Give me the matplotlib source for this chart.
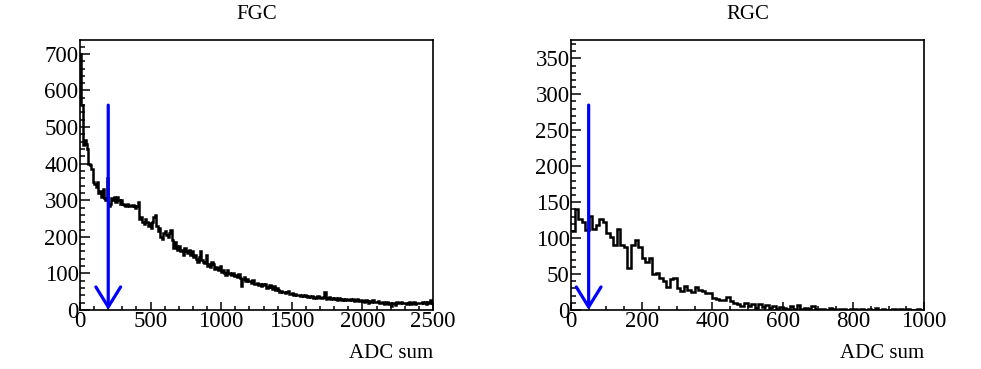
import numpy as np
import matplotlib
matplotlib.use("Agg")
import matplotlib.pyplot as plt
from matplotlib.ticker import MultipleLocator

# ---------------- data ----------------
fgc_edges_range = (0, 2500)
fgc_counts = [
    700, 560, 450, 465, 455, 440, 400, 395, 385, 350,
    345, 335, 350, 320, 325, 310, 330, 305, 300, 360,
    285, 290, 305, 300, 310, 295, 310, 300, 290, 300,
    290, 288, 285, 290, 286, 285, 284, 288, 283, 280,
    285, 295, 250, 255, 240, 235, 250, 240, 230, 238,
    225, 240, 255, 260, 230, 215, 225, 200, 195, 210,
    215, 205, 200, 210, 220, 190, 170, 185, 175, 165,
    175, 160, 165, 150, 170, 160, 155, 165, 150, 160,
    145, 150, 140, 130, 145, 160, 138, 130, 128, 150,
    120, 125, 118, 130, 125, 112, 118, 115, 110, 120,
    105, 110, 100, 95, 108, 100, 98, 95, 100, 92,
    95, 90, 98, 88, 65, 85, 90, 80, 85, 78,
    80, 75, 82, 72, 70, 75, 68, 72, 65, 70,
    68, 72, 60, 64, 68, 62, 58, 65, 55, 60,
    55, 50, 52, 48, 50, 46, 48, 52, 45, 44,
    46, 42, 44, 40, 42, 40, 38, 42, 39, 40,
    38, 36, 38, 35, 37, 34, 36, 33, 38, 35,
    34, 32, 36, 50, 30, 32, 35, 30, 34, 30,
    32, 30, 28, 33, 30, 28, 31, 27, 30, 28,
    28, 30, 26, 29, 25, 27, 30, 24, 26, 28,
    25, 22, 26, 24, 20, 24, 22, 26, 21, 23,
    22, 24, 20, 18, 22, 16, 20, 22, 17, 20,
    12, 18, 20, 15, 21, 19, 20, 22, 18, 20,
    18, 16, 20, 22, 17, 19, 21, 16, 20, 18,
    20, 18, 22, 19, 21, 17, 23, 20, 26, 19,
]
fgc_cut = 200
fgc_arrow_top = 560

rgc_edges_range = (0, 1000)
rgc_counts = [
    110, 140, 127, 122, 111, 131, 112, 118, 127, 122,
    107, 102, 90, 113, 90, 88, 58, 91, 97, 88,
    72, 67, 72, 50, 51, 45, 40, 32, 43, 44,
    30, 27, 34, 28, 25, 32, 28, 27, 23, 23,
    16, 15, 14, 14, 18, 12, 10, 9, 6, 10,
    5, 8, 3, 9, 4, 7, 3, 5, 2, 4,
    3, 1, 5, 2, 7, 1, 3, 2, 5, 1,
    2, 1, 0, 3, 1, 0, 2, 1, 0, 1,
    1, 0, 2, 0, 1, 0, 3, 0, 1, 0,
    0, 1, 0, 2, 0, 1, 0, 0, 1, 0,
]
rgc_cut = 50
rgc_arrow_top = 285

titles = ["FGC", "RGC"]
xlabel = "ADC sum"

# ---------------- style ----------------
plt.rcParams['font.family'] = ['Liberation Serif', 'DejaVu Serif']
FS_TICK = 16.5
FS_TEXT = 15

fig = plt.figure(figsize=(9.81, 3.69), dpi=100)
W, H = 981, 369
ax_w = 353 / W
ax_h = 270 / H
ax_b = 1 - 310 / H
axL = fig.add_axes([80 / W, ax_b, ax_w, ax_h])
axR = fig.add_axes([571 / W, ax_b, ax_w, ax_h])

panels = [
    (axL, fgc_counts, fgc_edges_range, 738, fgc_cut, fgc_arrow_top,
     500, 100, 100, 20, titles[0]),
    (axR, rgc_counts, rgc_edges_range, 375.5, rgc_cut, rgc_arrow_top,
     200, 50, 50, 10, titles[1]),
]

for (ax, counts, rng, ymax, cut, atop, xmaj, xmin_, ymaj, ymin_, title) in panels:
    counts = np.asarray(counts, dtype=float)
    edges = np.linspace(rng[0], rng[1], len(counts) + 1)
    ax.stairs(counts, edges, color='black', lw=1.8, baseline=None)
    ax.set_xlim(*rng)
    ax.set_ylim(0, ymax)

    ax.annotate('', xy=(cut, 0), xytext=(cut, atop),
                arrowprops=dict(arrowstyle='->,head_length=1.44,head_width=0.89',
                                color='#0000ff', lw=2.3, shrinkA=0, shrinkB=0,
                                mutation_scale=10))

    ax.xaxis.set_major_locator(MultipleLocator(xmaj))
    ax.xaxis.set_minor_locator(MultipleLocator(xmin_))
    ax.yaxis.set_major_locator(MultipleLocator(ymaj))
    ax.yaxis.set_minor_locator(MultipleLocator(ymin_))
    ax.tick_params(axis='both', which='both', direction='in',
                   top=False, right=False, labelsize=FS_TICK, width=1.1)
    ax.tick_params(axis='y', which='major', length=7.5, pad=1)
    ax.tick_params(axis='y', which='minor', length=3.8)
    ax.tick_params(axis='x', which='major', length=5.8, pad=1)
    ax.tick_params(axis='x', which='minor', length=2.9)
    for s in ax.spines.values():
        s.set_linewidth(1.2)

    ax.set_title(title, fontsize=FS_TEXT, pad=15)
    ax.text(1.0, -0.178, xlabel, transform=ax.transAxes, ha='right',
            va='baseline', fontsize=FS_TEXT)

fig.savefig('out.png', dpi=100)
